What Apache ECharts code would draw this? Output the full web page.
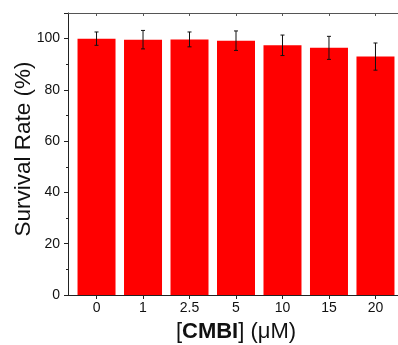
<!DOCTYPE html>
<html>
<head>
<meta charset="utf-8">
<script src="https://cdn.jsdelivr.net/npm/echarts@6/dist/echarts.min.js"></script>
<style>html,body{margin:0;padding:0;background:#fff}#c{width:398px;height:345px}</style>
</head>
<body>
<div id="c"></div>
<script>
var categories = ['0', '1', '2.5', '5', '10', '15', '20'];
var means = [100, 99.6, 99.7, 99.2, 97.4, 96.4, 93.0];
var errors = [2.6, 3.6, 2.9, 3.8, 4.0, 4.5, 5.3];
var yTicks = [0, 20, 40, 60, 80, 100];

var idx = categories.map(function (c, i) { return i; });
var barData = means.map(function (m, i) { return [i, m]; });
var errData = means.map(function (m, i) { return [i, m - errors[i], m + errors[i]]; });

var font = 'Liberation Sans, Arial, sans-serif';
var chart = echarts.init(document.getElementById('c'), null, {renderer: 'canvas'});
chart.setOption({
  animation: false,
  backgroundColor: '#fff',
  grid: {left: 68, top: 13, right: -6, bottom: 50, containLabel: false, outerBoundsMode: 'none'},
  xAxis: [{
    type: 'value', min: -0.6136, max: 6.6136, position: 'bottom',
    axisLine: {show: true, onZero: false, lineStyle: {color: '#222', width: 1}},
    axisTick: {show: true, inside: false, length: 4, customValues: idx, lineStyle: {color: '#222'}},
    axisLabel: {show: true, customValues: idx, margin: 6, fontFamily: font, fontSize: 14, color: '#111',
      formatter: function (v) { return categories[Math.round(v)]; }},
    splitLine: {show: false},
    name: '{b|[}{bb|CMBI}{b|] (μM)}', nameLocation: 'middle', nameGap: 26, nameMoveOverlap: false,
    nameTextStyle: {rich: {
      b: {fontFamily: font, fontSize: 22, color: '#111'},
      bb: {fontFamily: font, fontSize: 22, fontWeight: 'bold', color: '#111'}
    }}
  }, {
    type: 'value', min: -0.6136, max: 6.6136, position: 'top',
    axisLine: {show: true, onZero: false, lineStyle: {color: '#555', width: 1}},
    axisTick: {show: true, inside: true, length: 3, customValues: idx, lineStyle: {color: '#555'}},
    axisLabel: {show: false},
    splitLine: {show: false}
  }],
  yAxis: {
    type: 'value', min: 0, max: 110, interval: 20,
    axisLine: {show: true, onZero: false, lineStyle: {color: '#222', width: 1}},
    axisTick: {show: true, inside: false, length: 4, lineStyle: {color: '#222'}},
    minorTick: {show: true, splitNumber: 2, length: 2, lineStyle: {color: '#222'}},
    axisLabel: {margin: 8, fontFamily: font, fontSize: 14, color: '#111', showMaxLabel: false,
      formatter: function (v) { return yTicks.indexOf(v) >= 0 ? String(v) : ''; }},
    splitLine: {show: false},
    name: 'Survival Rate (%)', nameLocation: 'middle', nameGap: 33, nameMoveOverlap: false,
    nameTextStyle: {fontFamily: font, fontSize: 22.5, color: '#111', padding: [0, 0, 0, 10]}
  },
  series: [{
    type: 'bar', xAxisIndex: 0, data: barData, barWidth: 38,
    itemStyle: {color: '#ff0000'}
  }, {
    type: 'custom', xAxisIndex: 0, data: errData, z: 10,
    renderItem: function (params, api) {
      var x = api.value(0);
      var lo = api.coord([x, api.value(1)]);
      var hi = api.coord([x, api.value(2)]);
      var cw = 2;
      var st = {stroke: '#111', lineWidth: 1};
      return {type: 'group', children: [
        {type: 'line', shape: {x1: lo[0], y1: lo[1], x2: hi[0], y2: hi[1]}, style: st},
        {type: 'line', shape: {x1: hi[0] - cw, y1: hi[1], x2: hi[0] + cw, y2: hi[1]}, style: st},
        {type: 'line', shape: {x1: lo[0] - cw, y1: lo[1], x2: lo[0] + cw, y2: lo[1]}, style: st}
      ]};
    }
  }]
});
</script>
</body>
</html>
